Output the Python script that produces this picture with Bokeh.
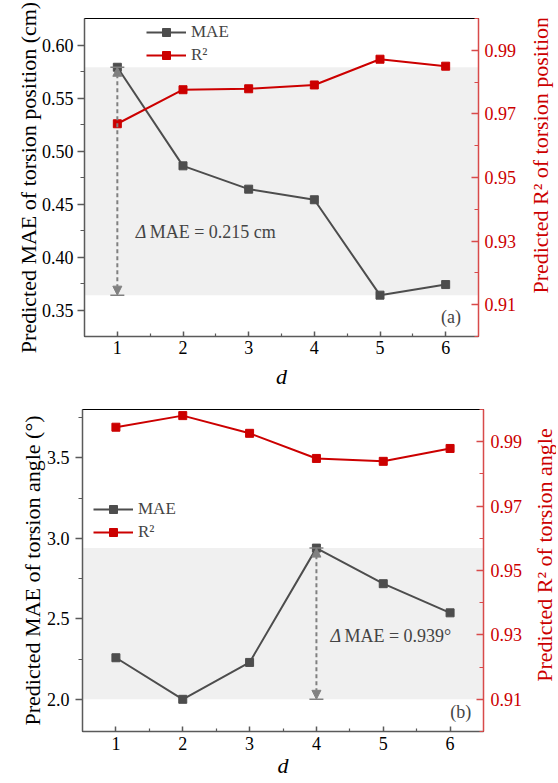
from bokeh.plotting import figure
from bokeh.models import (Range1d, LinearAxis, FixedTicker, PrintfTickFormatter,
                          BoxAnnotation, Arrow, NormalHead, TeeHead, Label,
                          Legend, LegendItem)
from bokeh.layouts import column, row
from bokeh.embed import file_html
from bokeh.resources import INLINE

# ---------------- data ----------------
d = [1, 2, 3, 4, 5, 6]
mae_pos = [0.579, 0.486, 0.464, 0.454, 0.364, 0.374]
r2_pos = [0.9669, 0.9776, 0.9779, 0.9791, 0.9872, 0.9850]
mae_ang = [2.258, 2.000, 2.229, 2.939, 2.718, 2.537]
r2_ang = [0.9945, 0.9981, 0.9926, 0.9848, 0.9839, 0.9879]

x_ticks = [1, 2, 3, 4, 5, 6]
x_minor = [1.5, 2.5, 3.5, 4.5, 5.5]
ya_ticks = [0.35, 0.40, 0.45, 0.50, 0.55, 0.60]
ya_minor = [0.375, 0.425, 0.475, 0.525, 0.575]
yb_ticks = [2.0, 2.5, 3.0, 3.5]
yb_minor = [2.25, 2.75, 3.25, 3.75]
r2_ticks = [0.91, 0.93, 0.95, 0.97, 0.99]
r2_minor = [0.90, 0.92, 0.94, 0.96, 0.98, 1.00]

FONT = "Liberation Serif"
FS = "18px"
TFS = "22px"
GREY = "#4d4d4d"
RED = "#cc0000"
AXG = "#5a5a5a"
ARROWC = "#808080"
WR = 28      # strip holding the right axis title
WM = 556 - WR


def title_strip(width, height, text, color, xy):
    t = figure(width=width, height=height, output_backend="svg",
               toolbar_location=None, x_range=Range1d(0, 1),
               y_range=Range1d(0, 1), min_border_left=0, min_border_right=0,
               min_border_top=0, min_border_bottom=0)
    t.axis.visible = False
    t.grid.visible = False
    t.outline_line_color = None
    t.add_layout(Label(x=xy[0], y=xy[1], text=text, angle=90,
                       angle_units="deg", text_font=FONT, text_font_size=TFS,
                       text_align="center", text_baseline="middle",
                       text_color=color))
    return t


def panel(mae, r2, yrange, yticks, yminor, yfmt, ylabel, height, borders,
          legend_loc, delta_text, delta_xy, tag, tag_xy, lab_stand, r_stand,
          x_stand, d_stand, l_title_stand):
    bl, br, bt, bb = borders
    p = figure(width=WM, height=height, output_backend="svg",
               toolbar_location=None, x_range=Range1d(0.5, 6.5),
               y_range=Range1d(*yrange), min_border_left=bl,
               min_border_right=br, min_border_top=bt, min_border_bottom=bb)
    p.extra_y_ranges = {"r2": Range1d(0.90, 1.00)}
    p.grid.visible = False
    p.outline_line_color = "black"
    p.outline_line_width = 1
    p.background_fill_color = "white"

    # band between min and max MAE
    p.add_layout(BoxAnnotation(bottom=min(mae), top=max(mae),
                               fill_color="#f0f0f0", fill_alpha=1,
                               line_alpha=0, level="underlay"))

    l1 = p.line(d, mae, line_color=GREY, line_width=2)
    s1 = p.scatter(d, mae, marker="square", size=8, color=GREY)
    l2 = p.line(d, r2, line_color=RED, line_width=2, y_range_name="r2")
    s2 = p.scatter(d, r2, marker="square", size=8, color=RED,
                   y_range_name="r2")

    # double arrow at max MAE
    imax = mae.index(max(mae))
    xa = d[imax]
    p.add_layout(Arrow(x_start=xa, y_start=min(mae), x_end=xa, y_end=max(mae),
                       start=NormalHead(size=9, fill_color=ARROWC,
                                        line_color=ARROWC),
                       end=NormalHead(size=9, fill_color=ARROWC,
                                      line_color=ARROWC),
                       line_color=ARROWC, line_width=2, line_dash="4 3"))
    p.add_layout(Arrow(x_start=xa, y_start=min(mae), x_end=xa, y_end=max(mae),
                       start=TeeHead(size=14, line_color=ARROWC, line_width=1.5),
                       end=TeeHead(size=14, line_color=ARROWC, line_width=1.5),
                       line_alpha=0))

    p.add_layout(Label(x=delta_xy[0], y=delta_xy[1], text="Δ",
                       text_font=FONT, text_font_size=FS,
                       text_font_style="italic", text_baseline="middle"))
    p.add_layout(Label(x=delta_xy[0], y=delta_xy[1], x_offset=14,
                       text=delta_text, text_font=FONT, text_font_size=FS,
                       text_baseline="middle"))
    p.add_layout(Label(x=tag_xy[0], y=tag_xy[1], text=tag, text_font=FONT,
                       text_font_size=FS, text_align="center",
                       text_baseline="middle"))

    # x axis
    xa_ = p.xaxis[0]
    xa_.ticker = FixedTicker(ticks=x_ticks, minor_ticks=x_minor)
    xa_.axis_label = "d"
    xa_.axis_label_text_font_style = "italic"
    xa_.major_tick_in = 5
    xa_.major_tick_out = 0
    xa_.minor_tick_in = 3
    xa_.minor_tick_out = 0
    xa_.major_label_standoff = x_stand
    xa_.axis_label_standoff = d_stand

    # left axis
    ya_ = p.yaxis[0]
    ya_.ticker = FixedTicker(ticks=yticks, minor_ticks=yminor)
    ya_.formatter = PrintfTickFormatter(format=yfmt)
    ya_.axis_label = ylabel
    ya_.axis_label_standoff = l_title_stand
    ya_.major_tick_in = 0
    ya_.major_tick_out = 7
    ya_.minor_tick_in = 0
    ya_.minor_tick_out = 4
    ya_.major_label_standoff = lab_stand

    for ax in (xa_, ya_):
        ax.axis_line_color = AXG
        ax.axis_line_width = 1.5
        ax.major_tick_line_color = AXG
        ax.minor_tick_line_color = AXG
        ax.major_tick_line_width = 1.5
        ax.minor_tick_line_width = 1.2
        ax.major_label_text_font = FONT
        ax.major_label_text_font_size = FS
        ax.major_label_text_color = "black"
        ax.axis_label_text_font = FONT
        ax.axis_label_text_font_size = TFS
        ax.axis_label_text_color = "black"
    ya_.axis_label_text_font_style = "normal"

    # right axis
    ra = LinearAxis(y_range_name="r2",
                    ticker=FixedTicker(ticks=r2_ticks, minor_ticks=r2_minor),
                    formatter=PrintfTickFormatter(format="%.2f"))
    ra.major_tick_in = 7
    ra.major_tick_out = 0
    ra.minor_tick_in = 4
    ra.minor_tick_out = 0
    ra.axis_line_color = "#d84a4a"
    ra.axis_line_width = 1.5
    ra.major_tick_line_color = "#d84a4a"
    ra.minor_tick_line_color = "#d84a4a"
    ra.major_tick_line_width = 1.5
    ra.minor_tick_line_width = 1.2
    ra.major_label_text_font = FONT
    ra.major_label_text_font_size = FS
    ra.major_label_text_color = RED
    ra.major_label_standoff = r_stand
    p.add_layout(ra, "right")

    leg = Legend(items=[LegendItem(label="MAE", renderers=[l1, s1]),
                        LegendItem(label="R²", renderers=[l2, s2])],
                 location=legend_loc, background_fill_alpha=0,
                 border_line_alpha=0, padding=0, margin=0, spacing=3,
                 glyph_width=40, glyph_height=20, label_height=20,
                 label_standoff=5, label_text_font=FONT,
                 label_text_font_size="17px", label_text_baseline="middle")
    p.add_layout(leg)
    return p


HA, HB = 392, 389

pa = panel(mae_pos, r2_pos, (0.325, 0.625), ya_ticks, ya_minor, "%.2f",
           "Predicted MAE of torsion position (cm)", HA,
           (84, 50, 18, 56), (62, 271), "MAE = 0.215 cm", (1.28, 0.424),
           "(a)", (6.08, 0.3434), 4, 6, 4, 7, -2)
pb = panel(mae_ang, r2_ang, (1.8, 3.8), yb_ticks, yb_minor, "%.1f",
           "Predicted MAE of torsion angle (°)", HB,
           (82, 45, 17, 50), (11, 189), "MAE = 0.939°", (4.21, 2.392),
           "(b)", (6.16, 1.919), 6, 7, 5, 0, -1)

ra_ = title_strip(WR, HA, "Predicted R² of torsion position", RED,
                  (0.43, 0.570))
rb = title_strip(WR, HB, "Predicted R² of torsion angle", RED,
                 (0.57, 0.548))

layout = column(row(pa, ra_, spacing=0), row(pb, rb, spacing=0), spacing=0)
open("out.html", "w").write(file_html(layout, INLINE))
